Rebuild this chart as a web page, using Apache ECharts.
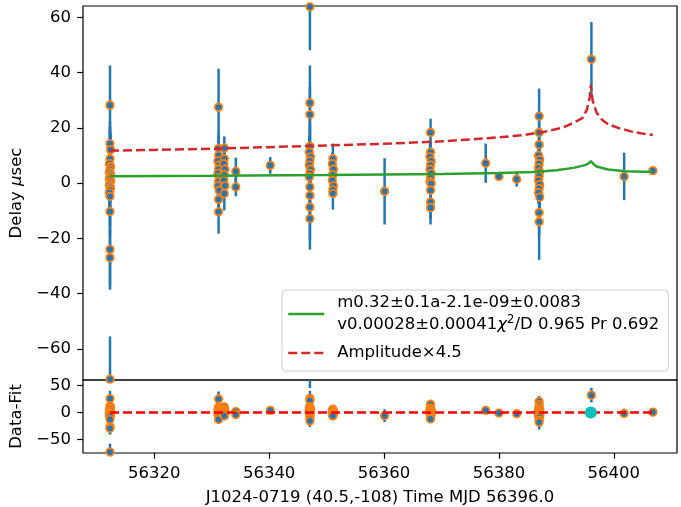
<!DOCTYPE html>
<html>
<head>
<meta charset="utf-8">
<script src="https://cdn.jsdelivr.net/npm/echarts@6/dist/echarts.min.js"></script>
<style>
  html, body { margin: 0; padding: 0; background: #fff; }
  #chart { width: 681px; height: 507px; }
</style>
</head>
<body>
<div id="chart"></div>
<script>
// Timing residuals of J1024-0719: observation epochs (MJD), delays, 1-sigma errors and fit residuals
const mjd = [
  // 56312
  56312.3, 56312.3, 56312.4, 56312.3, 56312.2, 56312.4, 56312.3, 56312.2, 56312.4, 56312.3, 56312.2,
  56312.4, 56312.3, 56312.2, 56312.4, 56312.3, 56312.2, 56312.3, 56312.3, 56312.3, 56312.3, 56312.3,
  // 56331
  56331.2, 56331.2, 56331.2, 56331.1, 56331.3, 56331.2, 56331.1, 56331.3, 56331.2, 56331.1, 56331.3, 56331.2, 56331.2,
  // 56332
  56332.2, 56332.2, 56332.1, 56332.3, 56332.2, 56332.1, 56332.3, 56332.2,
  // 56334
  56334.2, 56334.2,
  // 56340
  56340.2,
  // 56347
  56347.1, 56347.1, 56347.1, 56347.1, 56347.0, 56347.2, 56347.1, 56347.0, 56347.2, 56347.1, 56347.0, 56347.1, 56347.1, 56347.1, 56347.1,
  // 56351
  56351.1, 56351.0, 56351.2, 56351.1, 56351.0, 56351.2, 56351.1, 56351.1,
  // 56360
  56360.1,
  // 56368
  56368.1, 56368.1, 56368.0, 56368.2, 56368.1, 56368.0, 56368.2, 56368.1, 56368.0, 56368.2, 56368.1, 56368.1, 56368.1,
  // 56378 - 56383
  56377.7, 56380.0, 56383.1,
  // 56387
  56387.0, 56387.0, 56387.0, 56386.9, 56387.1, 56387.0, 56386.9, 56387.1, 56387.0, 56386.9, 56387.1, 56387.0, 56386.9, 56387.1, 56387.0, 56387.0,
  // 56396 - 56407
  56396.1, 56401.8, 56406.8
];

const delay = [
  28.2, 14.3, 12.1, 8.8, 7.0, 6.0, 5.0, 4.0, 3.2, 2.4, 1.6, 0.8, 0.0, -0.8, -1.6, -2.5, -3.5, -4.8, -10.3, -24.0, -27.0, -71.0,
  27.5, 12.5, 10.0, 8.0, 6.5, 5.0, 3.5, 2.0, 0.5, -1.0, -2.6, -5.9, -10.4,
  12.7, 8.8, 7.0, 5.0, 3.0, 1.0, -1.0, -3.8,
  4.2, -1.4,
  6.4,
  63.8, 29.0, 24.8, 13.3, 11.2, 9.5, 8.0, 6.5, 5.0, 3.5, 2.2, -1.4, -4.5, -8.7, -12.9,
  8.8, 7.0, 5.0, 3.0, 1.0, -1.0, -2.5, -3.8,
  -3.0,
  18.3, 11.2, 9.5, 8.0, 6.5, 5.0, 3.5, 2.0, 0.5, -0.2, -2.6, -6.9, -8.9,
  7.2, 2.4, 1.4,
  24.2, 18.3, 13.9, 10.0, 8.5, 7.0, 5.5, 4.0, 2.5, 1.0, -0.5, -2.0, -3.5, -5.1, -10.7, -14.0,
  44.8, 2.4, 4.5
];

const delayErr = [
  14.4, 8.0, 6.0, 5.0, 4.5, 6.0, 14.0, 4.0, 5.0, 18.0, 4.0, 5.0, 6.0, 4.0, 5.0, 4.0, 6.0, 5.0, 8.0, 14.6, 10.0, 15.5,
  13.9, 5.0, 4.0, 5.0, 4.0, 6.0, 4.0, 5.0, 4.0, 5.0, 4.0, 6.0, 7.9,
  4.2, 4.0, 3.0, 4.0, 3.0, 4.0, 3.0, 6.1,
  5.0, 3.4,
  3.0,
  15.7, 13.6, 10.0, 8.0, 6.0, 5.0, 7.0, 5.0, 6.0, 5.0, 6.0, 8.0, 10.0, 12.0, 11.2,
  5.5, 4.0, 3.0, 4.0, 3.0, 4.0, 3.0, 5.8,
  12.0,
  5.0, 4.0, 5.0, 4.0, 3.0, 4.0, 3.0, 4.0, 3.0, 4.0, 5.0, 6.0, 6.1,
  7.1, 0.8, 2.7,
  10.0, 6.0, 5.0, 5.0, 4.0, 5.0, 4.0, 5.0, 4.0, 5.0, 4.0, 5.0, 4.0, 5.0, 8.0, 13.8,
  13.5, 8.6, 1.5
];

// Data minus fit, same epochs and errors as above
const resid = [
  25.7, 11.8, 9.6, 6.3, 4.5, 3.5, 2.5, 1.5, 0.7, -0.1, -0.9, -1.7, -2.5, -3.3, -4.1, -5.0, -6.0, -7.3, -12.8, -26.5, -29.5, -73.5,
  24.9, 9.9, 7.4, 5.4, 3.9, 2.4, 0.9, -0.6, -2.1, -3.6, -5.2, -8.5, -13.0,
  10.1, 6.2, 4.4, 2.4, 0.4, -1.6, -3.6, -6.4,
  1.6, -4.0,
  3.7,
  61.0, 26.2, 22.0, 10.5, 8.4, 6.7, 5.2, 3.7, 2.2, 0.7, -0.6, -4.2, -7.3, -11.5, -15.7,
  5.9, 4.1, 2.1, 0.1, -1.9, -3.9, -5.4, -6.7,
  -6.0,
  15.1, 8.0, 6.3, 4.8, 3.3, 1.8, 0.3, -1.2, -2.7, -3.4, -5.8, -10.1, -12.1,
  3.7, -1.2, -2.4,
  20.2, 14.3, 9.9, 6.0, 4.5, 3.0, 1.5, 0.0, -1.5, -3.0, -4.5, -6.0, -7.5, -9.1, -14.7, -18.0,
  32.0, -1.9, 0.5
];

// Fitted delay model
const fitMjd   = [56312.3, 56330, 56350, 56370, 56380, 56386, 56390, 56393, 56395, 56395.7, 56396.0, 56396.4, 56397, 56399, 56402, 56406.8];
const fitDelay = [2.5, 2.6, 2.9, 3.3, 3.6, 4.0, 4.6, 5.5, 6.5, 7.2, 8.0, 7.0, 6.0, 4.9, 4.3, 4.0];

// Scaled amplitude envelope
const ampMjd   = [56312.3, 56320, 56330, 56340, 56350, 56360, 56370, 56378, 56384, 56388, 56391, 56393, 56394.5, 56395.3, 56395.8, 56396.0, 56396.3, 56397, 56398, 56399, 56401, 56403, 56405, 56406.8];
const ampDelay = [11.7, 12.0, 12.4, 13.0, 13.6, 14.2, 15.1, 16.2, 17.3, 18.6, 20.0, 21.8, 23.5, 26.5, 31.0, 35.5, 30.0, 25.5, 22.8, 21.3, 19.8, 18.7, 17.9, 17.4];

// Zero reference in the residual panel and the reference epoch
const zeroMjd = [56312.3, 56406.8];
const refEpoch = [[56396.0, 0]];

const xTicks = [56320, 56340, 56360, 56380, 56400];
const yTicksTop = [-60, -40, -20, 0, 20, 40, 60];
const yTicksBottom = [-50, 0, 50];

const legendFit1 = 'm0.32±0.1a-2.1e-09±0.0083';
const legendFit2a = 'v0.00028±0.00041';
const legendFit2b = '/D 0.965 Pr 0.692';
const legendAmp = 'Amplitude×4.5';
const xTitle = 'J1024-0719 (40.5,-108) Time MJD 56396.0';

const FONT = 'DejaVu Sans';
const FS = 16.5;

const pts = mjd.map((m, i) => [m, delay[i], delayErr[i]]);
const resPts = mjd.map((m, i) => [m, resid[i], delayErr[i]]);

function minusFmt(v) { return v < 0 ? '\u2212' + Math.abs(v) : String(v); }

function errBar(params, api) {
  const x = api.value(0), y = api.value(1), e = api.value(2);
  const p1 = api.coord([x, y + e]);
  const p2 = api.coord([x, y - e]);
  const cs = params.coordSys;
  const lo = cs.y, hi = cs.y + cs.height;
  const y1 = Math.max(lo, Math.min(hi, p1[1]));
  const y2 = Math.max(lo, Math.min(hi, p2[1]));
  return {
    type: 'line',
    shape: { x1: p1[0], y1: y1, x2: p2[0], y2: y2 },
    style: { stroke: '#1f77b4', lineWidth: 2.5 }
  };
}

const xMin = 56307.6, xMax = 56411.0;

const baseX = {
  type: 'value', min: xMin, max: xMax,
  splitLine: { show: false },
  axisLine: { show: false, onZero: false }
};
const tickStyle = { color: '#000', width: 1.2 };

const chart = echarts.init(document.getElementById('chart'), null, { renderer: 'canvas' });
chart.setOption({
  animation: false,
  backgroundColor: '#ffffff',
  textStyle: { fontFamily: FONT },
  grid: [
    { left: 80, right: 4, top: 6, height: 374, show: true, borderColor: '#000', borderWidth: 1.2, backgroundColor: 'transparent' },
    { left: 80, right: 4, top: 380, height: 75, show: true, borderColor: '#000', borderWidth: 1.2, backgroundColor: 'transparent' }
  ],
  xAxis: [
    Object.assign({}, baseX, { gridIndex: 0, axisLabel: { show: false }, axisTick: { show: false } }),
    Object.assign({}, baseX, {
      gridIndex: 1,
      name: xTitle, nameLocation: 'middle', nameGap: 36,
      nameTextStyle: { fontSize: FS, color: '#000', fontFamily: FONT },
      axisTick: { show: true, customValues: xTicks, length: 5.8, lineStyle: tickStyle },
      axisLabel: { show: true, customValues: xTicks, fontSize: FS, color: '#000', fontFamily: FONT, margin: 12, formatter: v => String(v) }
    })
  ],
  yAxis: [
    {
      type: 'value', gridIndex: 0, min: -71.3, max: 64.1,
      splitLine: { show: false }, axisLine: { show: false, onZero: false },
      axisTick: { show: true, customValues: yTicksTop, length: 5.8, lineStyle: tickStyle },
      axisLabel: { customValues: yTicksTop, fontSize: FS, color: '#000', fontFamily: FONT, margin: 12, formatter: minusFmt },
      name: '{a|Delay }{b|μ}{a|sec}', nameLocation: 'middle', nameGap: 58, nameRotate: 90,
      nameTextStyle: {
        rich: {
          a: { fontSize: FS, color: '#000', fontFamily: FONT },
          b: { fontSize: FS, color: '#000', fontFamily: FONT, fontStyle: 'italic' }
        }
      }
    },
    {
      type: 'value', gridIndex: 1, min: -75.3, max: 60.1,
      splitLine: { show: false }, axisLine: { show: false, onZero: false },
      axisTick: { show: true, customValues: yTicksBottom, length: 5.8, lineStyle: tickStyle },
      axisLabel: { customValues: yTicksBottom, fontSize: FS, color: '#000', fontFamily: FONT, margin: 12, formatter: minusFmt },
      name: 'Data-Fit', nameLocation: 'middle', nameGap: 58, nameRotate: 90,
      nameTextStyle: { fontSize: FS, color: '#000', fontFamily: FONT }
    }
  ],
  legend: {
    left: 282, top: 290, orient: 'vertical',
    data: [
      { name: 'fit', lineStyle: { width: 2.5, color: '#2ca02c' } },
      { name: 'amp', lineStyle: { width: 2.5, color: '#d62728', type: [9, 4] } }
    ],
    selectedMode: false,
    itemWidth: 36, itemHeight: 12, itemGap: 6,
    itemStyle: { opacity: 0 },
    padding: [2, 9, 7, 5],
    backgroundColor: 'rgba(255,255,255,0.8)',
    borderColor: '#cccccc', borderWidth: 1, borderRadius: 4,
    formatter: function (name) {
      if (name === 'fit') {
        return '{t|' + legendFit1 + '}\n{t|' + legendFit2a + '}{i|χ}{s|2}{t|' + legendFit2b + '}';
      }
      return '{t|' + legendAmp + '}';
    },
    textStyle: {
      fontFamily: FONT, color: '#000', fontSize: FS, lineHeight: 22, padding: [0, 0, 0, 8],
      rich: {
        t: { fontFamily: FONT, fontSize: FS, color: '#000', lineHeight: 22 },
        i: { fontFamily: FONT, fontSize: FS, color: '#000', lineHeight: 22, fontStyle: 'italic' },
        s: { fontFamily: FONT, fontSize: 11.5, color: '#000', lineHeight: 22, verticalAlign: 'top' }
      }
    }
  },
  series: [
    {
      type: 'custom', xAxisIndex: 0, yAxisIndex: 0, data: pts, renderItem: errBar,
      encode: { x: 0, y: 1 }, z: 2, silent: true
    },
    {
      type: 'scatter', xAxisIndex: 0, yAxisIndex: 0, data: pts.map(p => [p[0], p[1]]),
      symbol: 'circle', symbolSize: 7.5, z: 3, silent: true,
      itemStyle: { color: '#1f77b4', borderColor: '#ff7f0e', borderWidth: 1.8, opacity: 1 }
    },
    {
      name: 'fit', type: 'line', xAxisIndex: 0, yAxisIndex: 0,
      data: fitMjd.map((m, i) => [m, fitDelay[i]]),
      symbol: 'none', showSymbol: false, z: 4, silent: true,
      lineStyle: { color: '#2ca02c', width: 2.5 },
      itemStyle: { color: '#2ca02c' }
    },
    {
      name: 'amp', type: 'line', xAxisIndex: 0, yAxisIndex: 0,
      data: ampMjd.map((m, i) => [m, ampDelay[i]]),
      symbol: 'none', showSymbol: false, z: 4, silent: true,
      lineStyle: { color: '#d62728', width: 2.5, type: [9, 4] },
      itemStyle: { color: '#d62728' }
    },
    {
      type: 'custom', xAxisIndex: 1, yAxisIndex: 1, data: resPts, renderItem: errBar,
      encode: { x: 0, y: 1 }, z: 2, silent: true
    },
    {
      type: 'scatter', xAxisIndex: 1, yAxisIndex: 1, data: resPts.map(p => [p[0], p[1]]),
      symbol: 'circle', symbolSize: 7.5, z: 3, silent: true,
      itemStyle: { color: '#1f77b4', borderColor: '#ff7f0e', borderWidth: 1.8, opacity: 1 }
    },
    {
      type: 'line', xAxisIndex: 1, yAxisIndex: 1,
      data: zeroMjd.map(m => [m, 0]),
      symbol: 'none', showSymbol: false, z: 4, silent: true,
      lineStyle: { color: '#ff0000', width: 2.5, type: [9, 4] }
    },
    {
      type: 'scatter', xAxisIndex: 1, yAxisIndex: 1, data: refEpoch,
      symbol: 'circle', symbolSize: 12, z: 5, silent: true,
      itemStyle: { color: '#00bfbf', opacity: 1 }
    }
  ]
});
</script>
</body>
</html>
